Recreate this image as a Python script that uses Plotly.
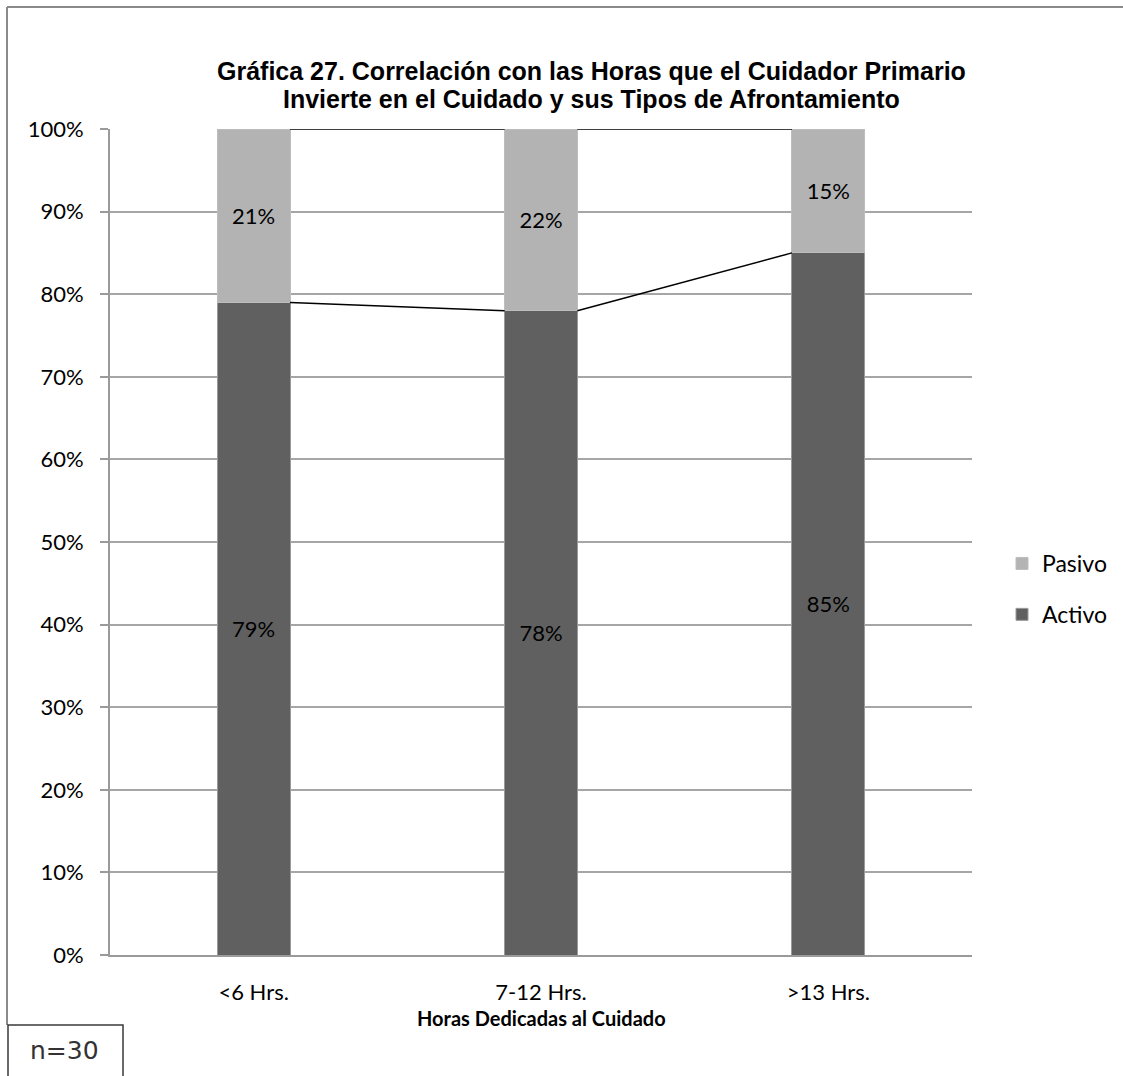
import plotly.graph_objects as go

categories = ["<6 Hrs.", "7-12 Hrs.", ">13 Hrs."]
activo = [79, 78, 85]
pasivo = [21, 22, 15]
y_ticks = [0, 10, 20, 30, 40, 50, 60, 70, 80, 90, 100]
y_tick_labels = [f"{v}%" for v in y_ticks]

W, H = 1123, 1076
L, R, T, B = 110, 151, 129, 121
pw, ph = W - L - R, H - T - B
bar_w = 0.253
xpos = list(range(len(categories)))

def px2paper(x, y):
    return (x - L) / pw, (H - B - y) / ph

fig = go.Figure()
fig.add_trace(go.Bar(
    x=xpos, y=activo, name="Activo", width=bar_w,
    marker=dict(color="#606060", line=dict(color="#9a9a9a", width=1)),
    text=[f"{v}%" for v in activo], textposition="inside", insidetextanchor="middle",
    textfont=dict(family="Lato", size=22, color="black"),
    legendgroup="a", legendrank=2, hoverinfo="skip",
))
fig.add_trace(go.Bar(
    x=xpos, y=pasivo, name="Pasivo", width=bar_w,
    marker=dict(color="#b3b3b3", line=dict(color="#bdbdbd", width=1)),
    text=[f"{v}%" for v in pasivo], textposition="inside", insidetextanchor="middle",
    textfont=dict(family="Lato", size=22, color="black"),
    legendgroup="b", legendrank=1, hoverinfo="skip",
))

# Series lines between stacked bars
shapes = []
tops = [a + p for a, p in zip(activo, pasivo)]
for i in range(len(categories) - 1):
    for vals in (activo, tops):
        shapes.append(dict(type="line", xref="x", yref="y",
                           x0=xpos[i] + bar_w / 2, y0=vals[i],
                           x1=xpos[i + 1] - bar_w / 2, y1=vals[i + 1],
                           line=dict(color="black", width=1.5), layer="above"))

# Chart outer border (top and left)
x0p, y0p = px2paper(7, 7)
x1p, _ = px2paper(W + 5, 7)
_, ybp = px2paper(7, 1025)
shapes.append(dict(type="line", xref="paper", yref="paper", x0=x0p, y0=y0p, x1=x1p, y1=y0p,
                   line=dict(color="#8a8a8a", width=2)))
shapes.append(dict(type="line", xref="paper", yref="paper", x0=x0p, y0=y0p, x1=x0p, y1=ybp,
                   line=dict(color="#8a8a8a", width=2)))
# n=30 box
bx0, by0 = px2paper(8, 1025)
bx1, by1 = px2paper(123, 1095)
shapes.append(dict(type="rect", xref="paper", yref="paper", x0=bx0, y0=by0, x1=bx1, y1=by1,
                   line=dict(color="#3a3a3a", width=1.5), fillcolor="white"))

annotations = []
nx, ny = px2paper(64, 1050)
annotations.append(dict(text="n=30", xref="paper", yref="paper", x=nx, y=ny,
                        showarrow=False, xanchor="center", yanchor="middle",
                        font=dict(family="DejaVu Sans", size=25, color="#333333")))
tx, ty = px2paper(541, 1018)
annotations.append(dict(text="<b>Horas Dedicadas al Cuidado</b>", xref="paper", yref="paper",
                        x=tx, y=ty, showarrow=False, xanchor="center", yanchor="middle",
                        font=dict(family="Lato", size=20, color="black")))
title_lines = ["Gráfica 27. Correlación con las Horas que el Cuidador Primario",
               "Invierte en el Cuidado y sus Tipos de Afrontamiento"]
for line, yc in zip(title_lines, (71, 99)):
    lx, ly = px2paper(591, yc)
    annotations.append(dict(text=f"<b>{line}</b>", xref="paper", yref="paper",
                            x=lx, y=ly, showarrow=False, xanchor="center", yanchor="middle",
                            font=dict(family="Liberation Sans", size=25, color="black")))

lgx, lgy = px2paper(1002, 589)
fig.update_layout(
    width=W, height=H,
    margin=dict(l=L, r=R, t=T, b=B, autoexpand=False),
    paper_bgcolor="white", plot_bgcolor="white",
    barmode="stack",
    xaxis=dict(range=[-0.5, 2.5], tickvals=xpos, ticktext=categories, showgrid=False,
               showline=True, linecolor="#9a9a9a", linewidth=2, ticks="",
               ticklabelstandoff=17,
               tickfont=dict(family="Lato", size=22, color="black"), zeroline=False),
    yaxis=dict(range=[0, 100], tickvals=y_ticks, ticktext=y_tick_labels,
               showgrid=True, gridcolor="#a6a6a6", gridwidth=1.5,
               showline=True, linecolor="#9a9a9a", linewidth=2,
               ticks="outside", ticklen=8, tickcolor="#9a9a9a", tickwidth=1.5,
               ticklabelstandoff=12,
               tickfont=dict(family="Lato", size=22, color="black"), zeroline=False),
    legend=dict(x=lgx, y=lgy, xanchor="left", yanchor="middle",
                font=dict(family="Lato", size=23, color="black"), tracegroupgap=18,
                itemwidth=30),
    shapes=shapes, annotations=annotations,
    showlegend=True,
)

fig.write_html("out.html", config={"displayModeBar": False},
               post_script="document.body.style.margin='0';")
